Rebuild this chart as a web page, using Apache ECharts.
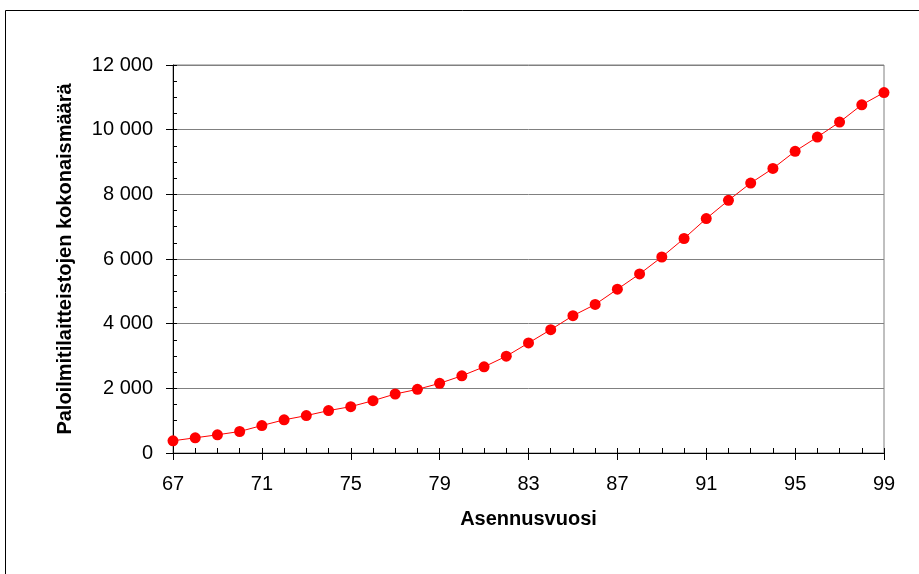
<!DOCTYPE html>
<html>
<head>
<meta charset="utf-8">
<script src="https://cdn.jsdelivr.net/npm/echarts@6/dist/echarts.min.js"></script>
<style>
html,body{margin:0;padding:0;background:#fff;}
#chart{width:919px;height:574px;}
</style>
</head>
<body>
<div id="chart"></div>
<script>
const years = [67,68,69,70,71,72,73,74,75,76,77,78,79,80,81,82,83,84,85,86,87,88,89,90,91,92,93,94,95,96,97,98,99];
const totals = [378,470,563,665,850,1025,1157,1311,1434,1618,1825,1969,2154,2388,2665,2994,3403,3815,4246,4594,5065,5538,6062,6634,7249,7815,8348,8800,9332,9772,10234,10769,11148];
const xTickLabels = [67,71,75,79,83,87,91,95,99];
const yTicks = [0,2000,4000,6000,8000,10000,12000];
const xTitle = 'Asennusvuosi';
const yTitle = 'Paloilmitilaitteistojen kokonaismäärä';

const FONT = "'Liberation Sans', Arial, sans-serif";
const fmt = v => String(v).replace(/\B(?=(\d{3})+(?!\d))/g, ' ');

const chart = echarts.init(document.getElementById('chart'), null, {renderer: 'canvas'});
chart.setOption({
  backgroundColor: '#fff',
  animation: false,
  graphic: [{
    type: 'rect', silent: true, z: -10,
    shape: {x: 5.5, y: 10.5, width: 1000, height: 1000},
    style: {fill: 'none', stroke: '#000', lineWidth: 1}
  }],
  grid: {left: 173, right: 35, top: 65, bottom: 121, show: true, borderColor: '#808080', borderWidth: 1, backgroundColor: 'transparent'},
  xAxis: [{
    type: 'value', min: 67, max: 99, interval: 4,
    axisLine: {show: true, lineStyle: {color: '#000', width: 1}},
    axisTick: {show: true, inside: false, length: 7, lineStyle: {color: '#000'}},
    axisLabel: {color: '#000', fontSize: 20, fontFamily: FONT, margin: 21,
      formatter: v => xTickLabels.includes(v) ? String(v) : ''},
    splitLine: {show: false},
    name: xTitle, nameLocation: 'middle', nameGap: 56,
    nameTextStyle: {color: '#000', fontSize: 20, fontWeight: 'bold', fontFamily: FONT}
  }, {
    type: 'value', min: 67, max: 99, interval: 1, position: 'bottom',
    axisLine: {show: false},
    axisTick: {show: true, inside: true, length: 5, lineStyle: {color: '#000'}},
    axisLabel: {show: false},
    splitLine: {show: false}
  }],
  yAxis: [{
    type: 'value', min: 0, max: 12000, interval: 2000,
    axisLine: {show: true, lineStyle: {color: '#000', width: 1}},
    axisTick: {show: true, inside: false, length: 7, lineStyle: {color: '#000'}},
    axisLabel: {color: '#000', fontSize: 20, fontFamily: FONT, margin: 20, formatter: v => fmt(v)},
    splitLine: {show: true, lineStyle: {color: '#808080', width: 1}},
    name: yTitle, nameLocation: 'middle', nameGap: 98,
    nameTextStyle: {color: '#000', fontSize: 20, fontWeight: 'bold', fontFamily: FONT}
  }, {
    type: 'value', min: 0, max: 12000, interval: 500, position: 'left',
    axisLine: {show: false},
    axisTick: {show: true, inside: true, length: 4, lineStyle: {color: '#000'}},
    axisLabel: {show: false},
    splitLine: {show: false}
  }],
  series: [{
    type: 'line',
    data: years.map((y, i) => [y, totals[i]]),
    symbol: 'circle', symbolSize: 11,
    lineStyle: {color: '#ff0000', width: 1},
    itemStyle: {color: '#ff0000'},
    clip: false
  }]
});
</script>
</body>
</html>
